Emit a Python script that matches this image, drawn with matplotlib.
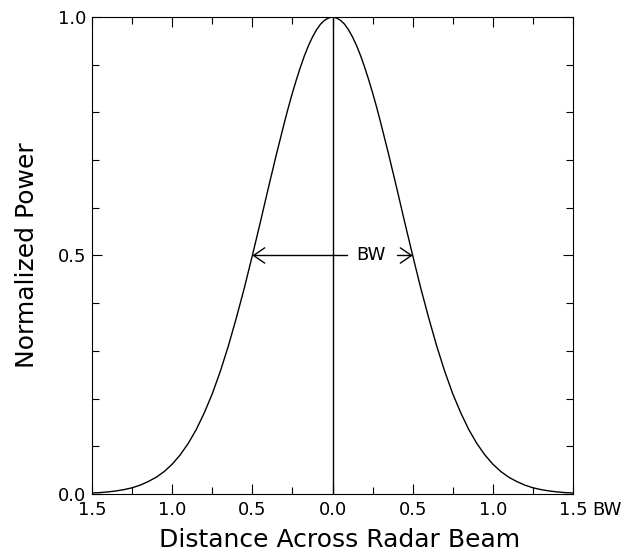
import numpy as np
import matplotlib.pyplot as plt
from matplotlib.ticker import MultipleLocator
from matplotlib.transforms import ScaledTranslation

# beam pattern (right half, symmetric about 0)
offsets = [0.000, 0.025, 0.050, 0.075, 0.100, 0.125, 0.150, 0.175, 0.200, 0.225,
           0.250, 0.275, 0.300, 0.35, 0.40, 0.45,
           0.50, 0.55, 0.60, 0.65, 0.70, 0.75, 0.80, 0.85, 0.90, 0.95,
           1.00, 1.05, 1.10, 1.15, 1.20, 1.25, 1.30, 1.35, 1.40, 1.45, 1.50]
power = [1.000, 0.998, 0.993, 0.985, 0.973, 0.958, 0.940, 0.919, 0.895, 0.869,
         0.841, 0.811, 0.779, 0.712, 0.642, 0.570,
         0.500, 0.432, 0.369, 0.310, 0.257, 0.210, 0.170, 0.135, 0.106, 0.082,
         0.0625, 0.047, 0.035, 0.026, 0.0185, 0.013, 0.0092, 0.0064, 0.0044, 0.0029, 0.0020]

xticks = [-1.5, -1.0, -0.5, 0.0, 0.5, 1.0, 1.5]
xticklabels = ["1.5", "1.0", "0.5", "0.0", "0.5", "1.0", "1.5"]
yticks = [0.0, 0.5, 1.0]
yticklabels = ["0.0", "0.5", "1.0"]
half_power = 0.5
half_width = 0.5

offsets = np.array(offsets)
power = np.array(power)
x = np.concatenate([-offsets[:0:-1], offsets])
y = np.concatenate([power[:0:-1], power])

plt.rcParams['font.family'] = 'DejaVu Sans'

fig = plt.figure(figsize=(6.29, 5.52), dpi=100)
ax = fig.add_axes([0.1463, 0.1051, 0.7647, 0.8641])

ax.plot(x, y, color='black', lw=1.0)
ax.axvline(0.0, color='black', lw=1.0)

# BW arrows, broken around the label
astyle = '->,head_length=0.8,head_width=0.55'
ax.annotate("", xy=(-half_width, half_power), xytext=(0.094, half_power),
            arrowprops=dict(arrowstyle=astyle, color='black', lw=1.0, shrinkA=0, shrinkB=0))
ax.annotate("", xy=(half_width, half_power), xytext=(0.405, half_power),
            arrowprops=dict(arrowstyle=astyle, color='black', lw=1.0, shrinkA=0, shrinkB=0))
ax.text(0.237, half_power, "BW", ha='center', va='center', fontsize=13)

ax.set_xlim(-1.5, 1.5)
ax.set_ylim(0, 1)
ax.set_xticks(xticks)
ax.set_xticklabels(xticklabels, fontsize=13)
ax.set_yticks(yticks)
ax.set_yticklabels(yticklabels, fontsize=13)
ax.xaxis.set_minor_locator(MultipleLocator(0.25))
ax.yaxis.set_minor_locator(MultipleLocator(0.1))
ax.tick_params(which='both', direction='in', top=True, right=True, width=0.8)
ax.tick_params(which='major', length=7)
ax.tick_params(which='minor', length=5)
ax.tick_params(axis='x', which='major', pad=5)
ax.tick_params(axis='y', which='major', pad=4)
for s in ax.spines.values():
    s.set_linewidth(0.8)

# unit next to the last x tick label
tr = ax.get_xaxis_transform() + ScaledTranslation(19 / 100, -5 / 72, fig.dpi_scale_trans)
ax.text(1.5, 0, "BW", transform=tr, ha='left', va='top', fontsize=13)

ax.set_xlabel("Distance Across Radar Beam", fontsize=18, va='baseline')
ax.xaxis.set_label_coords(0.515, -0.111)
ax.set_ylabel("Normalized Power", fontsize=18, labelpad=13.5)

fig.savefig("out.png", dpi=100)
